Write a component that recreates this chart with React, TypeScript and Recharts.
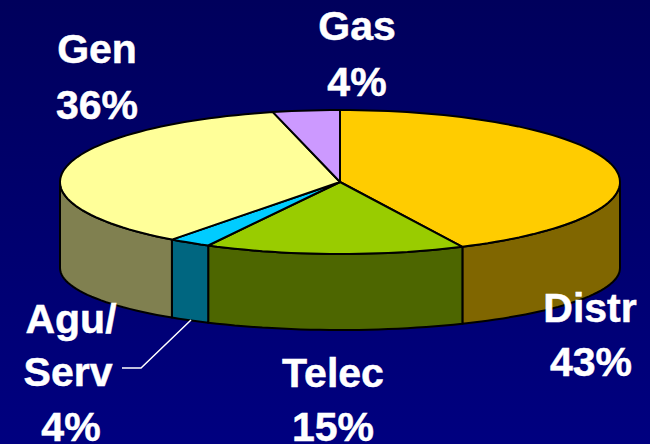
import { PieChart, Pie } from 'recharts';

const names = ['Distr', 'Telec', 'Agu/Serv', 'Gen', 'Gas'];
// slice sizes as drawn (the printed labels are rounded and add up to more than 100)
const shares = [42.8, 15.0, 2.45, 35.9, 3.85];
const percentLabels = ['43%', '15%', '4%', '36%', '4%'];
const topColors = ['#ffcc00', '#99cc00', '#00ccff', '#ffff99', '#cc99ff'];
const wallColors = ['#806600', '#4d6600', '#006680', '#808050', '#664d80'];

const labelLines = [
    [{ t: 'Distr', x: 590, y: 322 }, { t: percentLabels[0], x: 591, y: 376 }],
    [{ t: 'Telec', x: 333, y: 387 }, { t: percentLabels[1], x: 333, y: 441 }],
    [{ t: 'Agu/', x: 71, y: 333 }, { t: 'Serv', x: 68, y: 386 }, { t: percentLabels[2], x: 71, y: 441 }],
    [{ t: 'Gen', x: 97, y: 63 }, { t: percentLabels[3], x: 97, y: 119 }],
    [{ t: 'Gas', x: 357, y: 40 }, { t: percentLabels[4], x: 357, y: 96 }],
];

const data = names.map((name, i) => ({
    name,
    value: shares[i],
    fill: topColors[i],
    wall: wallColors[i],
}));

const W = 650;
const H = 444;
const TOP_RY = 72;
const BOTTOM_RY = 62;
const BOTTOM_DROP = 86;

const rad = (deg: number) => (deg * Math.PI) / 180;

function arcPoints(cx: number, cy: number, rx: number, ry: number, from: number, to: number) {
    const steps = Math.max(2, Math.ceil(Math.abs(to - from) / 2));
    const pts: string[] = [];
    for (let i = 0; i <= steps; i++) {
        const a = rad(from + ((to - from) * i) / steps);
        pts.push(`${(cx + rx * Math.cos(a)).toFixed(1)} ${(cy - ry * Math.sin(a)).toFixed(1)}`);
    }
    return pts;
}

function TopSlice(props: any) {
    const { cx, cy, outerRadius, startAngle, endAngle, fill } = props;
    const pts = arcPoints(cx, cy, outerRadius, TOP_RY, startAngle, endAngle);
    return (
        <path
            d={`M${cx} ${cy}L${pts.join('L')}Z`}
            fill={fill}
            stroke="#000"
            strokeWidth={2}
            strokeLinejoin="round"
        />
    );
}

function WallSlice(props: any) {
    const { cx, cy, outerRadius, startAngle, endAngle, payload } = props;
    // only the front half of the rim shows (angles 0 to -180 going clockwise)
    let from = startAngle > 0 ? 0 : startAngle;
    let to = endAngle;
    if (to < -180) to = -180;
    if (from <= to || from < -180) return null;
    const upper = arcPoints(cx, cy, outerRadius, TOP_RY, from, to);
    const lower = arcPoints(cx, cy + BOTTOM_DROP, outerRadius, BOTTOM_RY, to, from);
    return (
        <path
            d={`M${upper.join('L')}L${lower.join('L')}Z`}
            fill={payload.wall}
            stroke="#000"
            strokeWidth={2}
            strokeLinejoin="round"
        />
    );
}

function SliceLabel(props: any) {
    const { index } = props;
    return (
        <g>
            {labelLines[index].map((line) => (
                <text
                    key={line.t + line.y}
                    x={line.x}
                    y={line.y}
                    textAnchor="middle"
                    fill="#fff"
                    stroke="#fff"
                    strokeWidth={0.5}
                    fontFamily="Liberation Sans, Arial, sans-serif"
                    fontWeight="bold"
                    fontSize={41}
                >
                    {line.t}
                </text>
            ))}
            {index === 2 && (
                <polyline points="191,320 141,368 122,368" fill="none" stroke="#fff" strokeWidth={1.5} />
            )}
        </g>
    );
}

export default function App() {
    return (
        <div style={{ width: W, height: H, background: 'linear-gradient(#00005c, #000080)' }}>
            <style>{'body{margin:0}'}</style>
            <PieChart width={W} height={H} margin={{ top: 0, right: 0, bottom: 0, left: 0 }}>
                <Pie
                    data={data}
                    dataKey="value"
                    cx={340}
                    cy={182}
                    outerRadius={280}
                    startAngle={90}
                    endAngle={-270}
                    isAnimationActive={false}
                    shape={WallSlice}
                    inactiveShape={WallSlice}
                />
                <Pie
                    data={data}
                    dataKey="value"
                    cx={340}
                    cy={182}
                    outerRadius={280}
                    startAngle={90}
                    endAngle={-270}
                    isAnimationActive={false}
                    shape={TopSlice}
                    inactiveShape={TopSlice}
                    label={SliceLabel}
                    labelLine={false}
                />
            </PieChart>
        </div>
    );
}
